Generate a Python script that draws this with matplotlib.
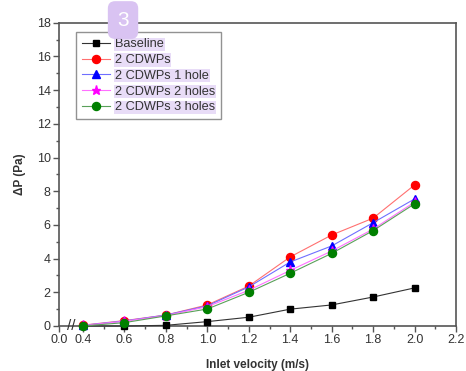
import numpy as np
import matplotlib
matplotlib.use("Agg")
import matplotlib.pyplot as plt
import matplotlib.ticker as mticker

plt.rcParams["font.family"] = ["Liberation Sans", "DejaVu Sans"]

velocity = [0.4, 0.6, 0.8, 1.0, 1.2, 1.4, 1.6, 1.8, 2.0]
baseline = [0.0, 0.0, 0.04, 0.26, 0.52, 1.0, 1.25, 1.72, 2.26]
cdwp2 = [0.05, 0.32, 0.65, 1.25, 2.37, 4.1, 5.4, 6.4, 8.37]
cdwp2_1hole = [0.04, 0.3, 0.65, 1.2, 2.32, 3.8, 4.75, 6.13, 7.54]
cdwp2_2holes = [0.03, 0.28, 0.62, 1.15, 2.12, 3.3, 4.45, 5.75, 7.35]
cdwp2_3holes = [0.0, 0.2, 0.6, 1.01, 2.0, 3.13, 4.31, 5.66, 7.25]

labels = ["Baseline", "2 CDWPs", "2 CDWPs 1 hole", "2 CDWPs 2 holes", "2 CDWPs 3 holes"]
series = [baseline, cdwp2, cdwp2_1hole, cdwp2_2holes, cdwp2_3holes]
mcolors = ["black", "red", "blue", "magenta", "green"]
lcolors = ["#333333", "#ff7070", "#6f6fff", "#ff70ff", "#5aa05a"]
markers = ["s", "o", "^", "*", "o"]
msizes = [5, 5.8, 5.6, 6.8, 5.8]

# broken x axis: squeeze 0.0-0.4
A = 0.29
def fwd(x):
    x = np.asarray(x, dtype=float)
    return np.where(x < 0.4, x * A, 0.4 * A + (x - 0.4))
def inv(u):
    u = np.asarray(u, dtype=float)
    return np.where(u < 0.4 * A, u / A, u - 0.4 * A + 0.4)

fig = plt.figure(figsize=(4.66, 3.71), dpi=100)
ax = fig.add_axes([0.1266, 0.1213, 0.8519, 0.8175])
ax.set_xscale("function", functions=(fwd, inv))

for y, lab, mc, lc, mk, ms in zip(series, labels, mcolors, lcolors, markers, msizes):
    ax.plot(velocity, y, color=lc, lw=0.8, marker=mk, ms=ms, mfc=mc, mec=mc,
            label=lab, clip_on=False, zorder=3)

ax.set_xlim(0, 2.2)
ax.set_ylim(0, 18)
ax.set_xticks([0.0, 0.4, 0.6, 0.8, 1.0, 1.2, 1.4, 1.6, 1.8, 2.0, 2.2])
ax.xaxis.set_major_formatter(mticker.FormatStrFormatter("%.1f"))
ax.set_xticks(np.arange(0.5, 2.2, 0.2), minor=True)
ax.yaxis.set_major_locator(mticker.MultipleLocator(2))
ax.yaxis.set_minor_locator(mticker.MultipleLocator(1))

for s in ax.spines.values():
    s.set_color("#555555")
    s.set_linewidth(1.2)
ax.tick_params(which="major", direction="out", length=4, width=1, color="#555555",
               labelsize=9, labelcolor="#333333", pad=2)
ax.tick_params(which="minor", direction="out", length=2, width=1, color="#555555")

ax.set_xlabel("Inlet velocity (m/s)", fontsize=8.5, fontweight="bold", color="#333333", labelpad=9)
ax.set_ylabel("ΔP (Pa)", fontsize=8.5, fontweight="bold", color="#333333", labelpad=8)

# axis break marks
ax.text(0.2, 0, "//", transform=ax.get_xaxis_transform(), ha="center", va="center",
        fontsize=11, color="#333333", clip_on=False, zorder=5)

leg = ax.legend(loc="upper left", bbox_to_anchor=(0.043, 0.968), fontsize=9.2,
                frameon=True, fancybox=False, edgecolor="#777777",
                handlelength=2.2, handletextpad=0.4, borderpad=0.45,
                labelspacing=0.3, borderaxespad=0)
leg.get_frame().set_linewidth(1.0)
for t in leg.get_texts():
    t.set_color("#333333")
    t.set_bbox(dict(facecolor="#e8dcf7", edgecolor="none", pad=0.5))

fig.text(0.264, 0.946, "3", fontsize=15, color="white", ha="center", va="center",
         bbox=dict(boxstyle="round,pad=0.45,rounding_size=0.35", facecolor="#d9c3f2",
                   edgecolor="none"), zorder=10)

fig.savefig("out.png", dpi=100)
